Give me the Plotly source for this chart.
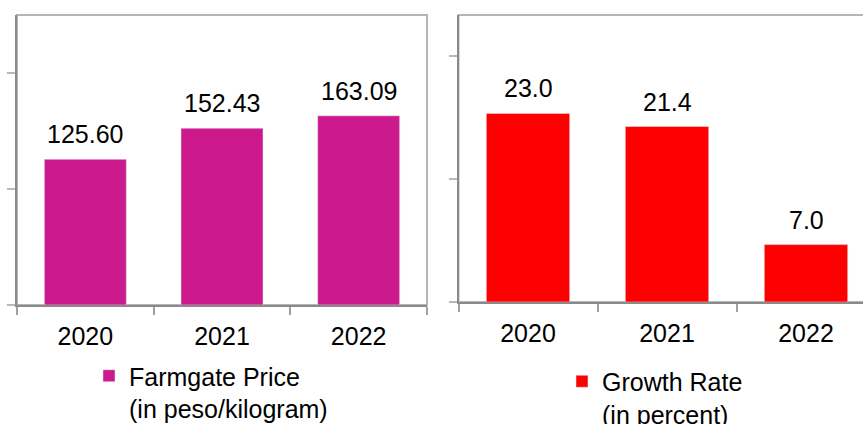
import plotly.graph_objects as go

years = ["2020", "2021", "2022"]
price_values = [125.60, 152.43, 163.09]
growth_values = [23.0, 21.4, 7.0]
price_labels = ["125.60", "152.43", "163.09"]
growth_labels = ["23.0", "21.4", "7.0"]

W, H = 863, 424
FONT = "Liberation Sans, Arial, sans-serif"
MAGENTA = "#CC1A8C"
RED = "#FF0000"
AXIS = "#8A8A8A"
BORDER = "#B5B5B5"

fig = go.Figure()
fig.add_trace(go.Bar(
    x=years, y=price_values, marker_color=MAGENTA, width=0.6,
    name="Farmgate Price<br>(in peso/kilogram)", xaxis="x", yaxis="y", legend="legend",
))
fig.add_trace(go.Bar(
    x=years, y=growth_values, marker_color=RED, width=0.6,
    name="Growth Rate<br>(in percent)", xaxis="x2", yaxis="y2", legend="legend2",
))

# value labels (category index positions on the category axes)
for i, (yv, t) in enumerate(zip(price_values, price_labels)):
    fig.add_annotation(x=i, y=yv, xref="x", yref="y", text=t, showarrow=False,
                       yanchor="bottom", yshift=9, font=dict(size=25, color="#000", family=FONT))
for i, (yv, t) in enumerate(zip(growth_values, growth_labels)):
    fig.add_annotation(x=i, y=yv, xref="x2", yref="y2", text=t, showarrow=False,
                       yanchor="bottom", yshift=9, font=dict(size=25, color="#000", family=FONT))

# panel borders
fig.add_shape(type="rect", xref="x domain", yref="y domain", x0=0, x1=1, y0=0, y1=1,
              line=dict(color=BORDER, width=2), layer="below")
fig.add_shape(type="rect", xref="x2 domain", yref="y2 domain", x0=0, x1=1.05, y0=0, y1=1,
              line=dict(color=BORDER, width=2), layer="below")

xcommon = dict(type="category", showline=True, linecolor=AXIS, linewidth=2,
               ticks="outside", ticklen=8, tickwidth=2, tickcolor="#A0A0A0",
               tickson="boundaries", showgrid=False, zeroline=False, automargin=False,
               ticklabelstandoff=8,
               tickfont=dict(size=25, color="#000", family=FONT))
ycommon = dict(showline=True, linecolor=AXIS, linewidth=2, ticks="outside", ticklen=8,
               tickwidth=2, tickcolor="#B8B8B8", showticklabels=False, showgrid=False,
               zeroline=False, automargin=False)

fig.update_layout(
    width=W, height=H, margin=dict(l=0, r=0, t=0, b=0, autoexpand=False),
    paper_bgcolor="white", plot_bgcolor="white",
    showlegend=True, bargap=0.4,
    xaxis=dict(domain=[17 / W, 427 / W], range=[-0.5, 2.5], anchor="y", **xcommon),
    yaxis=dict(domain=[(H - 305) / H, (H - 15) / H], range=[0, 250], dtick=100,
               anchor="x", **ycommon),
    xaxis2=dict(domain=[458.5 / W, 1], range=[-0.5, -0.5 + (W - 458.5) / 139],
                anchor="y2", **xcommon),
    yaxis2=dict(domain=[(H - 302) / H, (H - 15) / H], range=[0, 35], dtick=15,
                anchor="x2", **ycommon),
    legend=dict(x=89 / W, y=(H - 353) / H, xanchor="left", yanchor="top",
                bgcolor="rgba(0,0,0,0)", valign="top",
                font=dict(size=25, color="#000", family=FONT)),
    legend2=dict(x=562 / W, y=(H - 358.5) / H, xanchor="left", yanchor="top",
                 bgcolor="rgba(0,0,0,0)", valign="top",
                 font=dict(size=25, color="#000", family=FONT)),
)

fig.write_html("out.html")
